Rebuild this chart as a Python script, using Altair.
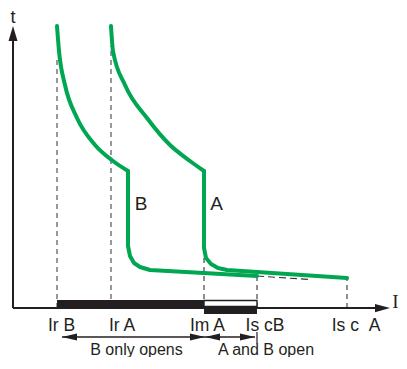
import altair as alt
import pandas as pd

# Schematic coordinates: I = current (horizontal), t = time (vertical), origin at axes corner
# Curve B (upper inverse-time part, then magnetic part)
B_TOP_I = [44, 46, 52, 64, 82, 100, 115]
B_TOP_T = [282, 257, 223, 190, 163, 147, 137]
B_LOW_I = [115, 115, 117, 121, 127, 137, 244]
B_LOW_T = [137, 62, 52, 45, 41, 38, 32]
# Curve A
A_TOP_I = [98, 100, 112, 134, 157, 177, 191]
A_TOP_T = [282, 257, 223, 190, 163, 147, 137]
A_LOW_I = [191, 191, 193, 198, 205, 214, 334]
A_LOW_T = [137, 60, 50, 44, 40, 38, 30]

# Current thresholds on the I axis
TICK_NAMES = ["Ir B", "Ir A", "Im A", "Is cB", "Is c\u00a0\u00a0A"]
TICK_POS = [44, 98, 191, 244, 334]
TICK_LABEL_POS = [48.5, 109, 194.5, 252, 343]
GUIDE_TOP = [252, 262, 53, 32, 30]

# Extension of curve B beyond its breaking capacity (dashed)
EXT_I = [244, 297]
EXT_T = [32, 28.5]

# Zones
ZONE_NAMES = ["B only opens", "A and B open"]
ZONE_FROM = [49, 192]
ZONE_TO = [192, 242]
ZONE_LABEL_POS = [123.5, 253]

# Curve labels
CURVE_NAMES = ["B", "A"]
CURVE_LABEL_I = [128, 203.5]
CURVE_LABEL_T = [98, 98]

GREEN = "#00a651"
INK = "#231f20"
FONT = "Liberation Sans"

XS = alt.Scale(domain=[-5, 386], nice=False, zero=False)
YS = alt.Scale(domain=[-49, 300], nice=False, zero=False)


def X(f):
    return alt.X(f, type="quantitative", scale=XS, axis=None)


def Y(f):
    return alt.Y(f, type="quantitative", scale=YS, axis=None)


def curve_df(parts):
    rows = []
    for name, xs, ys in parts:
        for k, (i, t) in enumerate(zip(xs, ys)):
            rows.append({"curve": name, "k": k, "I": i, "t": t})
    return pd.DataFrame(rows)


top_df = curve_df([("B", B_TOP_I, B_TOP_T), ("A", A_TOP_I, A_TOP_T)])
low_df = curve_df([("B", B_LOW_I, B_LOW_T), ("A", A_LOW_I, A_LOW_T)])

curves_top = alt.Chart(top_df).mark_line(
    interpolate="monotone", color=GREEN, strokeWidth=4, strokeCap="round", strokeJoin="round"
).encode(x=X("I"), y=Y("t"), detail="curve:N", order="k:Q")

curves_low = alt.Chart(low_df).mark_line(
    interpolate="linear", color=GREEN, strokeWidth=4, strokeCap="round", strokeJoin="round"
).encode(x=X("I"), y=Y("t"), detail="curve:N", order="k:Q")

guides = pd.DataFrame({"name": TICK_NAMES, "I": TICK_POS, "top": GUIDE_TOP,
                       "lab": TICK_LABEL_POS, "zero": [0] * len(TICK_POS)})

guides_upper = alt.Chart(guides.iloc[:2]).mark_rule(
    color="#7f7f7f", strokeWidth=1.6, strokeDash=[5, 4]
).encode(x=X("I"), y=Y("zero"), y2="top")

guides_lower = alt.Chart(guides.iloc[2:]).mark_rule(
    color="#333333", strokeWidth=1.1, strokeDash=[5, 4]
).encode(x=X("I"), y=Y("zero"), y2="top")

ext = alt.Chart(pd.DataFrame({"I": [EXT_I[0]], "I2": [EXT_I[1]], "t": [EXT_T[0]], "t2": [EXT_T[1]]})).mark_rule(
    color="#333333", strokeWidth=1.1, strokeDash=[7, 4]
).encode(x=X("I"), x2="I2", y=Y("t"), y2="t2")

# Bars on the I axis
bar_b = alt.Chart(pd.DataFrame({"a": [TICK_POS[0]], "b": [TICK_POS[2]], "lo": [-1], "hi": [8]})).mark_rect(
    color=INK).encode(x=X("a"), x2="b", y=Y("lo"), y2="hi")
bar_ab_box = alt.Chart(pd.DataFrame({"a": [TICK_POS[2]], "b": [TICK_POS[3]], "lo": [1.5], "hi": [7.5]})).mark_rect(
    fill="white", stroke=INK, strokeWidth=1.4).encode(x=X("a"), x2="b", y=Y("lo"), y2="hi")
bar_ab = alt.Chart(pd.DataFrame({"a": [TICK_POS[2]], "b": [TICK_POS[3]], "lo": [-6], "hi": [1.5]})).mark_rect(
    color=INK).encode(x=X("a"), x2="b", y=Y("lo"), y2="hi")

# Axes drawn as rules
axes_df = pd.DataFrame({"x1": [0, 0], "x2": [0, 363], "y1": [0, 0], "y2": [268, 0]})
axes = alt.Chart(axes_df).mark_rule(color=INK, strokeWidth=2).encode(
    x=X("x1"), x2="x2", y=Y("y1"), y2="y2")

# Zone arrows
zones = pd.DataFrame({"name": ZONE_NAMES, "a": ZONE_FROM, "b": ZONE_TO, "lab": ZONE_LABEL_POS,
                      "t": [-29, -29], "tl": [-46.5, -46.5]})
zone_lines = alt.Chart(zones).mark_rule(color=INK, strokeWidth=1.5).encode(
    x=X("a"), x2="b", y=Y("t"))
tick_end = alt.Chart(pd.DataFrame({"I": [TICK_POS[3]], "a": [-24], "b": [-35.5]})).mark_rule(
    color=INK, strokeWidth=1.2).encode(x=X("I"), y=Y("a"), y2="b")

UP = "M0,0L0.6,2L-0.6,2Z"
RIGHT = "M0,0L-2,0.55L-2,-0.55Z"
LEFT = "M0,0L2,0.47L2,-0.47Z"
RIGHT_S = "M0,0L-2,0.47L-2,-0.47Z"
heads = pd.DataFrame({
    "I": [0, 377, ZONE_FROM[0], ZONE_TO[0], ZONE_FROM[1], ZONE_TO[1]],
    "t": [282, 0, -29, -29, -29, -29],
    "dir": ["up", "right", "left", "rs", "left", "rs"],
})
arrow_heads = alt.Chart(heads).mark_point(filled=True, size=225, opacity=1, strokeWidth=0).encode(
    x=X("I"), y=Y("t"),
    shape=alt.Shape("dir:N", scale=alt.Scale(domain=["up", "right", "left", "rs"],
                                             range=[UP, RIGHT, LEFT, RIGHT_S]), legend=None),
    color=alt.value(INK),
)

# Texts
tick_text = alt.Chart(guides.assign(tb=-22.5)).mark_text(
    font=FONT, fontSize=17.5, color=INK, align="center", baseline="alphabetic"
).encode(x=X("lab"), y=Y("tb"), text="name:N")

zone_text = alt.Chart(zones).mark_text(
    font=FONT, fontSize=16, color=INK, align="center", baseline="alphabetic"
).encode(x=X("lab"), y=Y("tl"), text="name:N")

curve_text = alt.Chart(pd.DataFrame({"name": CURVE_NAMES, "I": CURVE_LABEL_I, "t": CURVE_LABEL_T})).mark_text(
    font=FONT, fontSize=19, color=INK, align="center", baseline="alphabetic"
).encode(x=X("I"), y=Y("t"), text="name:N")

axis_t = alt.Chart(pd.DataFrame({"s": ["t"], "I": [0], "t": [285]})).mark_text(
    font=FONT, fontSize=18, color=INK, align="center", baseline="alphabetic"
).encode(x=X("I"), y=Y("t"), text="s:N")

axis_i = alt.Chart(pd.DataFrame({"s": ["I"], "I": [382.5], "t": [0]})).mark_text(
    font="Liberation Serif", fontSize=19, color=INK, align="center", baseline="alphabetic"
).encode(x=X("I"), y=Y("t"), text="s:N")

chart = alt.layer(
    guides_upper, guides_lower, ext,
    curves_top, curves_low,
    axes, bar_b, bar_ab, bar_ab_box,
    zone_lines, tick_end, arrow_heads,
    tick_text, zone_text, curve_text, axis_t, axis_i,
).properties(
    width=391, height=349, padding=0, autosize=alt.AutoSizeParams(type="none"),
    background="white",
).configure_view(stroke=None)

chart.save("out.html", embed_options={"renderer": "svg", "actions": False})
